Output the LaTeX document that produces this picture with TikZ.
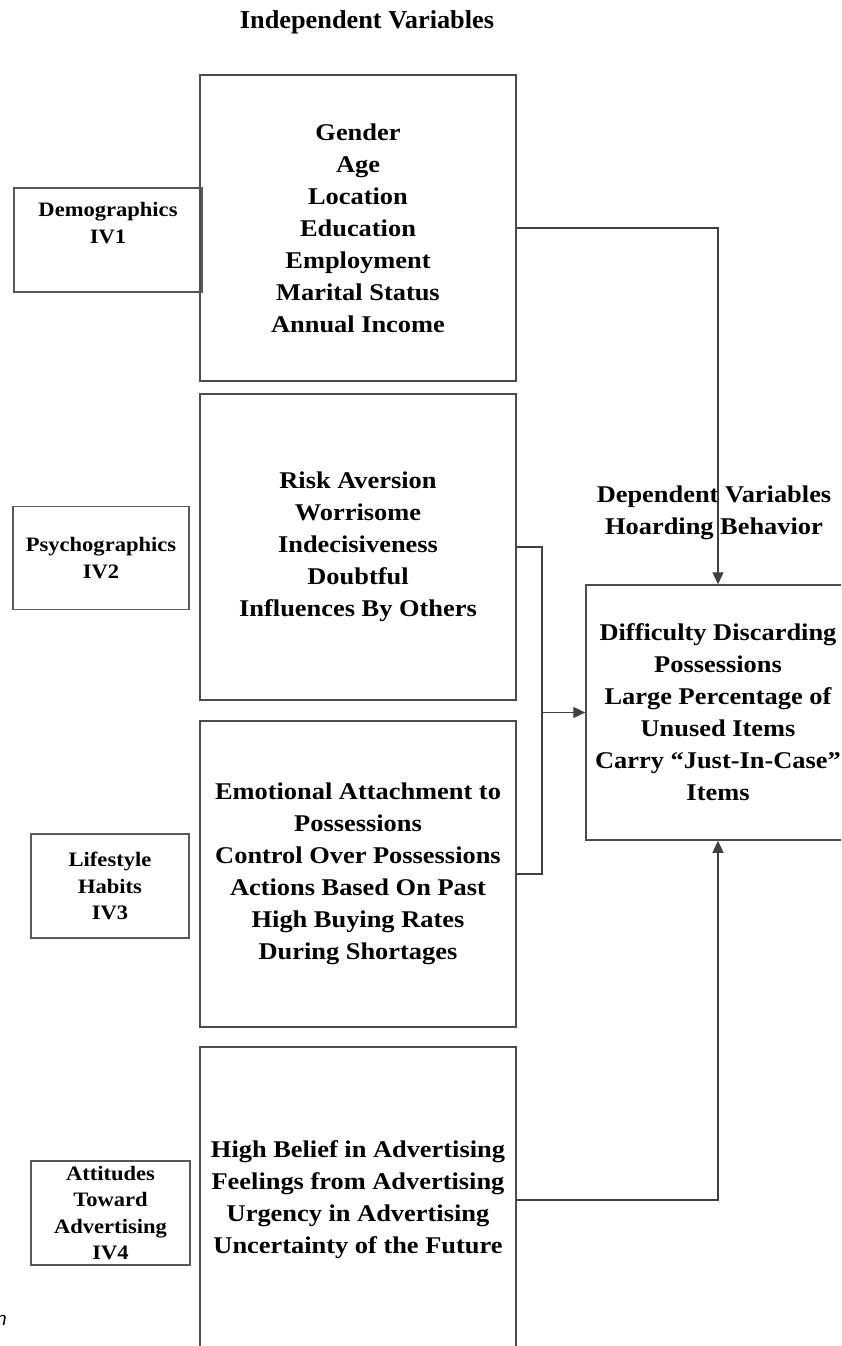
\documentclass[tikz,border=0pt]{standalone}
\usepackage{fontspec}
\setmainfont{Liberation Serif}
\setsansfont{Liberation Sans}
\newfontfamily\widefont{Liberation Serif}[FakeStretch=1.1,Ligatures=TeX]
\newfontfamily\titlefont{Liberation Serif}[FakeStretch=1.02,Ligatures=TeX]
\usetikzlibrary{arrows.meta,calc}
\tikzset{
  bigbox/.style={draw=black!70, line width=1.5pt, minimum width=316pt, inner sep=0pt,
    align=center, font=\widefont\bfseries\fontsize{24}{32}\selectfont},
  smallbox/.style={draw=black!65, line width=1.4pt, inner sep=0pt, align=center,
    font=\widefont\bfseries\fontsize{20.5}{26.5}\selectfont},
  conn/.style={draw=black!75, line width=1.3pt},
  arr/.style={conn, -{Triangle[length=12pt,width=11pt]}},
  heading/.style={font=\widefont\bfseries\fontsize{24}{32}\selectfont, align=center, inner sep=0pt},
}
\begin{document}
\begin{tikzpicture}[x=1pt,y=-1pt]
\useasboundingbox (0,0) rectangle (841,1346);
\clip (0,0) rectangle (841,1346);
\fill[white] (0,0) rectangle (841,1346);

\node[heading, font=\titlefont\bfseries\fontsize{25.8}{32}\selectfont] (title) at (367,22) {Independent Variables};

\node[bigbox, minimum height=306pt] (b1) at (358,228)
  {Gender\\Age\\Location\\Education\\Employment\\Marital Status\\Annual Income};
\node[bigbox, minimum height=306pt] (b2) at (358,547)
  {Risk Aversion\\Worrisome\\Indecisiveness\\Doubtful\\Influences By Others};
\node[bigbox, minimum height=306pt] (b3) at (358,874)
  {Emotional Attachment to\\Possessions\\Control Over Possessions\\Actions Based On Past\\High Buying Rates\\During Shortages};
\node[bigbox, minimum height=306pt] (b4) at (358,1200)
  {High Belief in Advertising\\Feelings from Advertising\\Urgency in Advertising\\Uncertainty of the Future};

\node[smallbox, minimum width=188pt, minimum height=104pt] (s1) at (108,240)
  {Demographics\\IV1\\\strut};
\node[smallbox, minimum width=176pt, minimum height=103pt] (s2) at (101,558)
  {Psychographics\\IV2};
\node[smallbox, minimum width=158pt, minimum height=104pt] (s3) at (110,886)
  {Lifestyle\\Habits\\IV3};
\node[smallbox, minimum width=159pt, minimum height=104pt] (s4) at (110.5,1213)
  {Attitudes\\Toward\\Advertising\\IV4};

\node[heading] (dep) at (714,513)
  {Dependent Variables\\Hoarding Behavior};

\node[bigbox, minimum width=264pt, minimum height=255pt] (out) at (718,712.5)
  {Difficulty Discarding\\Possessions\\Large Percentage of\\Unused Items\\Carry “Just-In-Case”\\Items};

\node[font=\sffamily\itshape\fontsize{19}{20}\selectfont, anchor=base east, inner sep=0pt] (frag) at (7,1325) {n};

\coordinate (j) at (542,712.5);

\draw[arr] (b1.east) -| (out.north);
\draw[conn] (b2.east) -| (j |- b3.east) -- (b3.east);
\draw[arr] (j) -- (j -| out.west);
\draw[arr] (b4.east) -| (out.south);
\end{tikzpicture}
\end{document}
